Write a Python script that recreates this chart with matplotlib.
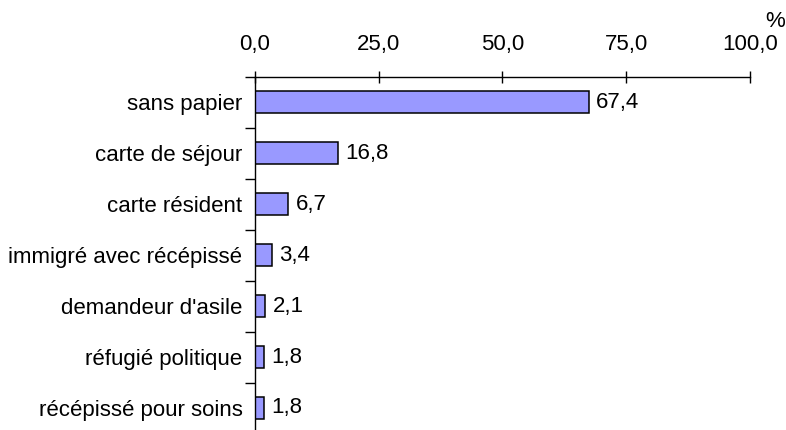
import matplotlib.pyplot as plt
import numpy as np

categories = ["sans papier", "carte de séjour", "carte résident",
              "immigré avec récépissé", "demandeur d'asile",
              "réfugié politique", "récépissé pour soins"]
values = [67.4, 16.8, 6.7, 3.4, 2.1, 1.8, 1.8]
xticks = [0, 25, 50, 75, 100]

plt.rcParams['font.family'] = ['Liberation Sans', 'DejaVu Sans']
fs = 16

fig = plt.figure(figsize=(7.86, 4.30), dpi=100)
ax = fig.add_axes([0.3244, -0.008, 0.6298, 0.829])

y = np.arange(len(categories))
ax.barh(y, values, height=0.43, color="#9999FF", edgecolor="black", linewidth=1.1)

for yi, v in zip(y, values):
    ax.text(v + 1.5, yi, f"{v:.1f}".replace(".", ","), va="center", ha="left", fontsize=fs)

ax.set_xlim(0, 100)
ax.set_ylim(len(categories) - 0.5, -0.5)
ax.xaxis.tick_top()
ax.set_xticks(xticks)
ax.set_xticklabels([f"{t:.1f}".replace(".", ",") for t in xticks], fontsize=fs)
ax.tick_params(axis="x", direction="inout", length=8, width=1, pad=12)

ax.set_yticks(y)
ax.set_yticklabels(categories, fontsize=fs)
ax.set_yticks(np.arange(-0.5, len(categories) + 0.5, 1), minor=True)
ax.tick_params(axis="y", which="major", length=0, pad=9)
ax.tick_params(axis="y", which="minor", direction="out", length=7, width=1)

for s in ["right", "bottom"]:
    ax.spines[s].set_visible(False)
ax.spines["top"].set_linewidth(1)
ax.spines["left"].set_linewidth(1)

fig.text(0.974, 0.949, "%", fontsize=fs, ha="left", va="center")

fig.savefig("out.png", dpi=100)
